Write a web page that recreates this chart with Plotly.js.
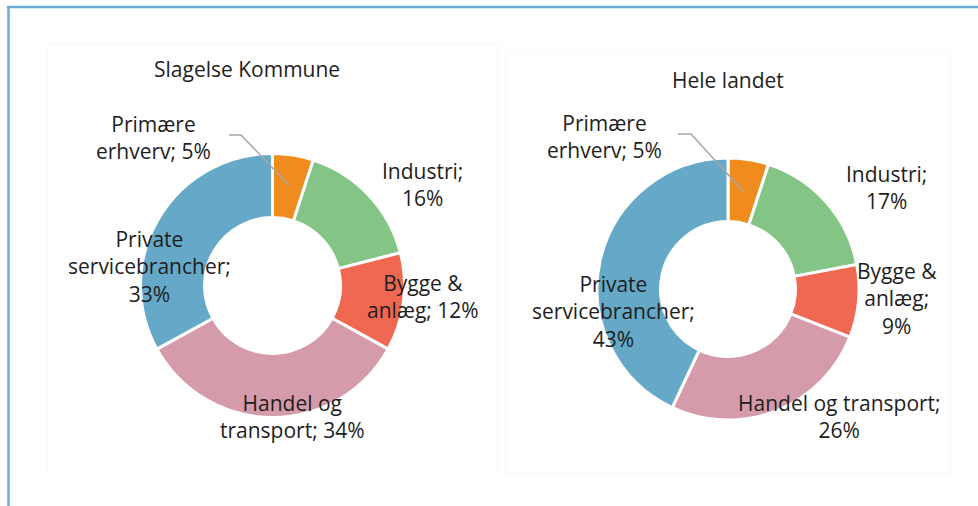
<!DOCTYPE html>
<html>
<head>
<meta charset="utf-8">
<script src="https://cdn.plot.ly/plotly-3.0.1.min.js"></script>
<style>html,body{margin:0;padding:0;background:#fff;}#chart{width:978px;height:506px;}</style>
</head>
<body>
<div id="chart"></div>
<script>
// ---- data ----
const categories = ["Primære erhverv", "Industri", "Bygge & anlæg", "Handel og transport", "Private servicebrancher"];
const slagelseValues = [5, 16, 12, 34, 33];
const landetValues = [5, 17, 9, 26, 43];
const chartTitles = ["Slagelse Kommune", "Hele landet"];
// label line breaks (text layout per chart)
const slagelseLabelText = ["Primære<br>erhverv; ", "Industri;<br>", "Bygge &<br>anlæg; ", "Handel og<br>transport; ", "Private<br>servicebrancher;<br>"];
const landetLabelText = ["Primære<br>erhverv; ", "Industri;<br>", "Bygge &<br>anlæg;<br>", "Handel og transport;<br>", "Private<br>servicebrancher;<br>"];
const colors = ["#F08C1E", "#84C484", "#F06752", "#D59BAA", "#65A8C8"];

// ---- layout helpers (pixels -> paper) ----
const W = 978, H = 506;
const px = x => x / W;
const py = y => 1 - y / H;

function pieTrace(values, cx, cy, r) {
  return {
    type: "pie",
    labels: categories,
    values: values,
    sort: false,
    direction: "clockwise",
    rotation: 0,
    hole: 0.515,
    textinfo: "none",
    hoverinfo: "label+percent",
    marker: {colors: colors, line: {color: "#ffffff", width: 3}},
    domain: {x: [px(cx - r), px(cx + r)], y: [py(cy + r), py(cy - r)]},
    showlegend: false
  };
}

const data = [
  pieTrace(slagelseValues, 272.5, 285.5, 132),
  pieTrace(landetValues, 728, 289, 131)
];

const slagelsePos = [[153, 137], [422, 184], [423, 296], [292, 416], [149, 266]];
const landetPos = [[604, 136], [886, 187], [897, 298], [839, 416], [613, 311]];

const font = {family: "Open Sans, sans-serif", size: 21, color: "#1e1e1e"};
const annotations = [];
function addLabels(values, texts, pos) {
  values.forEach((v, i) => {
    annotations.push({
      xref: "paper", yref: "paper",
      x: px(pos[i][0]), y: py(pos[i][1]),
      xanchor: "center", yanchor: "middle",
      text: texts[i] + v + "%",
      showarrow: false, font: font, align: "center"
    });
  });
}
addLabels(slagelseValues, slagelseLabelText, slagelsePos);
addLabels(landetValues, landetLabelText, landetPos);
annotations.push({xref: "paper", yref: "paper", x: px(247), y: py(69), xanchor: "center", yanchor: "middle",
  text: chartTitles[0], showarrow: false, font: font});
annotations.push({xref: "paper", yref: "paper", x: px(728), y: py(80), xanchor: "center", yanchor: "middle",
  text: chartTitles[1], showarrow: false, font: font});

function pathPx(pts) {
  return "M" + pts.map(p => px(p[0]) + "," + py(p[1])).join(" L");
}

const shapes = [
  // panels
  {type: "rect", xref: "paper", yref: "paper", x0: px(47), x1: px(498), y0: py(472), y1: py(44),
   line: {color: "#f8f8f8", width: 1}, fillcolor: "rgba(0,0,0,0)", layer: "below"},
  {type: "rect", xref: "paper", yref: "paper", x0: px(506), x1: px(950), y0: py(474), y1: py(51),
   line: {color: "#f8f8f8", width: 1}, fillcolor: "rgba(0,0,0,0)", layer: "below"},
  // outer frame
  {type: "line", xref: "paper", yref: "paper", x0: px(7), x1: px(978), y0: py(7), y1: py(7),
   line: {color: "#6AAED6", width: 2.5}},
  {type: "line", xref: "paper", yref: "paper", x0: px(8.5), x1: px(8.5), y0: py(7), y1: py(506),
   line: {color: "#6AAED6", width: 2.5}},
  // leader lines
  {type: "path", xref: "paper", yref: "paper", path: pathPx([[229, 135], [241, 135], [289, 185]]),
   line: {color: "#A6A6A6", width: 1.5}, layer: "above"},
  {type: "path", xref: "paper", yref: "paper", path: pathPx([[678, 134], [691, 134], [743, 191]]),
   line: {color: "#A6A6A6", width: 1.5}, layer: "above"}
];

const layout = {
  width: W, height: H,
  margin: {l: 0, r: 0, t: 0, b: 0},
  paper_bgcolor: "#ffffff",
  plot_bgcolor: "#ffffff",
  font: font,
  annotations: annotations,
  shapes: shapes,
  showlegend: false
};

Plotly.newPlot("chart", data, layout, {displayModeBar: false, staticPlot: true});
</script>
</body>
</html>
